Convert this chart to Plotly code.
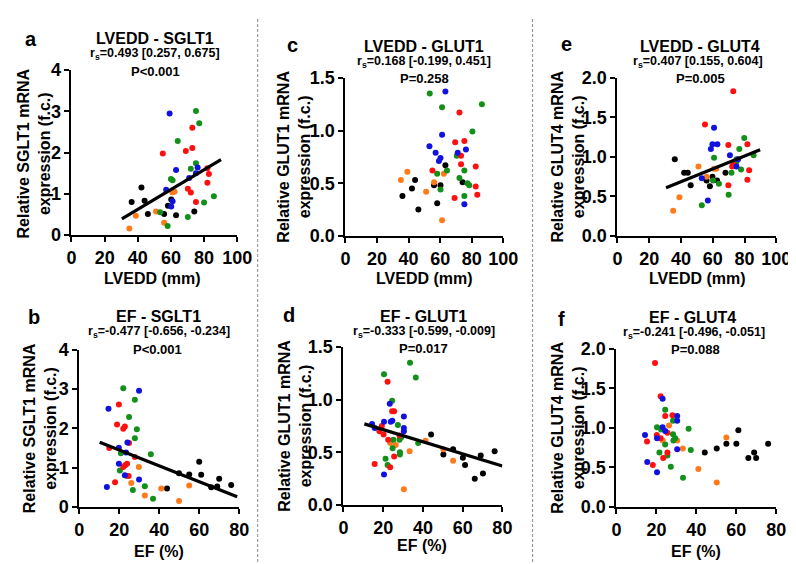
import plotly.graph_objects as go

# ---------------- data ----------------
# Panel a: LVEDD (mm) vs SGLT1
a_black_x = [36.3, 42.2, 44.1, 46.1, 55.9, 58.2, 60.2, 63.1, 74.1]
a_black_y = [0.80, 1.15, 0.83, 0.51, 0.51, 0.71, 0.86, 0.48, 0.57]
a_orange_x = [34.9, 38.8, 51.0, 55.9, 60.8, 62.2]
a_orange_y = [0.16, 0.47, 0.57, 0.30, 1.04, 1.05]
a_green_x = [53.5, 58.0, 60.0, 61.0, 64.1, 70.2, 72.0, 75.1, 75.1, 77.1, 80.0, 85.9]
a_green_y = [0.55, 0.22, 1.36, 1.33, 2.28, 0.44, 1.61, 3.01, 1.74, 2.71, 0.79, 0.94]
a_red_x = [55.1, 69.0, 70.2, 72.0, 72.9, 72.9, 75.1, 82.0, 82.0, 82.9]
a_red_y = [1.98, 2.04, 1.12, 1.03, 2.11, 2.60, 0.80, 1.62, 1.27, 1.48]
a_blue_x = [59.2, 57.1, 60.2, 61.0, 63.1, 71.0, 75.1, 76.1]
a_blue_y = [2.95, 1.10, 0.69, 0.82, 1.58, 1.38, 1.50, 1.64]
a_fit_x = [30.4, 90.2]
a_fit_y = [0.39, 1.83]

# Panel b: EF (%) vs SGLT1
b_black_x = [43.9, 49.9, 55.0, 60.0, 61.0, 66.0, 69.0, 70.0, 76.0]
b_black_y = [0.47, 0.86, 0.83, 1.15, 0.82, 0.50, 0.52, 0.72, 0.56]
b_orange_x = [26.0, 29.8, 32.8, 41.0, 49.9, 55.0]
b_orange_y = [0.61, 1.02, 0.29, 0.47, 0.15, 0.55]
b_green_x = [20.3, 20.8, 22.0, 23.9, 24.9, 26.8, 27.8, 27.8, 28.8, 32.8, 35.8, 36.9]
b_green_y = [0.93, 1.37, 3.02, 0.79, 2.29, 0.43, 2.73, 1.75, 1.98, 0.53, 1.34, 0.21]
b_red_x = [15.0, 17.9, 18.9, 19.8, 22.0, 22.8, 22.0, 22.9, 23.9, 24.9, 24.7, 27.8]
b_red_y = [1.50, 0.63, 2.10, 2.61, 1.99, 2.05, 1.02, 1.06, 1.10, 1.63, 0.79, 1.27]
b_blue_x = [14.6, 13.8, 19.8, 19.8, 22.8, 23.4, 24.1, 29.9, 29.9]
b_blue_y = [2.50, 0.51, 1.51, 1.10, 0.81, 1.39, 1.64, 2.96, 0.70]
b_fit_x = [10.2, 79.0]
b_fit_y = [1.65, 0.26]

# Panel c: LVEDD (mm) vs GLUT1
c_black_x = [36.1, 42.1, 44.1, 46.2, 56.1, 58.1, 60.2, 63.3, 74.2]
c_black_y = [0.38, 0.45, 0.53, 0.25, 0.48, 0.31, 0.48, 0.67, 0.51]
c_orange_x = [35.1, 39.2, 51.1, 56.1, 62.3, 61.2]
c_orange_y = [0.53, 0.61, 0.42, 0.51, 0.59, 0.15]
c_green_x = [53.4, 58.1, 60.2, 61.2, 64.3, 70.5, 72.2, 75.3, 75.3, 77.3, 78.4, 80.4, 86.4]
c_green_y = [1.35, 0.59, 0.44, 1.22, 0.62, 0.76, 0.55, 0.62, 0.38, 0.50, 0.48, 0.99, 1.25]
c_red_x = [55.1, 69.5, 69.1, 72.2, 73.2, 73.2, 75.3, 82.5, 82.5, 83.5]
c_red_y = [0.62, 0.89, 0.36, 1.17, 0.76, 0.68, 0.90, 0.66, 0.47, 0.39]
c_blue_x = [53.2, 57.1, 59.2, 60.2, 61.2, 63.3, 71.1, 76.3, 75.3]
c_blue_y = [0.85, 0.79, 0.71, 0.74, 0.96, 1.37, 0.79, 0.82, 0.30]

# Panel d: EF (%) vs GLUT1
d_black_x = [44.1, 50.3, 55.2, 60.1, 61.2, 66.1, 69.1, 70.2, 76.1]
d_black_y = [0.67, 0.48, 0.53, 0.45, 0.38, 0.25, 0.47, 0.30, 0.51]
d_orange_x = [23.5, 26.3, 33.3, 30.4, 41.3, 50.3, 55.2]
d_orange_y = [0.59, 0.57, 0.51, 0.15, 0.61, 0.53, 0.42]
d_green_x = [20.4, 21.2, 22.2, 24.5, 24.7, 25.1, 27.4, 28.2, 28.4, 28.4, 29.0, 33.5, 36.4, 37.6]
d_green_y = [1.24, 0.44, 0.38, 0.99, 0.54, 0.62, 0.76, 0.62, 0.50, 0.48, 0.64, 1.35, 1.21, 0.59]
d_red_x = [15.7, 19.3, 18.1, 20.2, 22.2, 22.5, 23.5, 24.5, 25.5, 25.5, 28.2]
d_red_y = [0.39, 0.75, 0.70, 0.67, 1.17, 0.62, 0.36, 0.89, 0.89, 0.46, 0.66]
d_blue_x = [14.4, 15.7, 20.4, 20.4, 23.3, 23.8, 24.6, 30.4, 30.4, 30.4]
d_blue_y = [0.77, 0.73, 0.79, 0.29, 0.96, 0.79, 0.80, 0.84, 0.73, 0.70]
d_fit_x = [10.5, 80.0]
d_fit_y = [0.77, 0.37]

# Panel e: LVEDD (mm) vs GLUT4
e_black_x = [36.1, 42.0, 44.3, 46.1, 56.1, 58.2, 59.8, 62.7, 68.0]
e_black_y = [0.97, 0.80, 0.80, 0.64, 0.70, 0.63, 0.75, 0.70, 0.80]
e_orange_x = [35.1, 39.0, 51.0, 56.1, 60.8, 62.2]
e_orange_y = [0.32, 0.49, 0.88, 0.75, 0.85, 0.85]
e_green_x = [53.1, 60.2, 60.8, 63.9, 70.0, 71.8, 74.9, 74.9, 76.7, 77.8, 79.8, 85.7]
e_green_y = [0.39, 0.70, 0.99, 0.66, 0.52, 0.80, 0.94, 0.97, 1.10, 0.84, 1.24, 1.02]
e_red_x = [55.1, 69.8, 69.8, 72.9, 72.2, 72.9, 81.8, 82.9, 81.8]
e_red_y = [1.41, 1.15, 0.64, 1.83, 0.88, 0.90, 1.16, 0.83, 0.71]
e_blue_x = [53.1, 56.9, 58.8, 59.8, 60.8, 62.9, 70.8, 74.9, 75.9]
e_blue_y = [0.73, 0.45, 1.10, 1.16, 1.37, 1.16, 1.02, 0.88, 0.97]
e_fit_x = [30.6, 89.8]
e_fit_y = [0.61, 1.09]

# Panel f: EF (%) vs GLUT4
f_black_x = [44.2, 50.2, 55.0, 60.0, 61.0, 66.0, 68.9, 69.9, 75.9]
f_black_y = [0.69, 0.74, 0.80, 0.80, 0.97, 0.62, 0.69, 0.62, 0.80]
f_orange_x = [23.1, 26.3, 30.4, 33.2, 41.0, 50.2, 55.0]
f_orange_y = [0.84, 1.03, 0.84, 0.74, 0.48, 0.31, 0.88]
f_green_x = [20.3, 21.5, 22.3, 24.4, 24.4, 25.5, 27.2, 28.3, 28.3, 28.5, 29.4, 33.3, 36.1, 37.2]
f_green_y = [1.01, 0.69, 0.98, 1.23, 0.79, 0.65, 0.51, 1.09, 0.92, 0.84, 0.87, 0.37, 0.99, 0.72]
f_red_x = [15.3, 18.2, 19.3, 20.2, 22.1, 22.1, 23.4, 24.4, 25.5, 25.5, 28.0]
f_red_y = [0.83, 0.53, 1.82, 0.91, 1.40, 0.87, 0.62, 1.15, 0.94, 0.69, 1.16]
f_blue_x = [14.3, 15.4, 20.3, 20.3, 23.1, 23.1, 24.4, 30.4, 30.4, 30.4]
f_blue_y = [0.91, 0.57, 0.87, 0.44, 1.37, 1.01, 0.96, 1.15, 1.09, 0.73]

titles = ["LVEDD - SGLT1", "EF - SGLT1", "LVEDD - GLUT1", "EF - GLUT1", "LVEDD - GLUT4", "EF - GLUT4"]
stats_r = ["0.493 [0.257, 0.675]", "-0.477 [-0.656, -0.234]", "0.168 [-0.199, 0.451]",
           "-0.333 [-0.599, -0.009]", "0.407 [0.155, 0.604]", "-0.241 [-0.496, -0.051]"]
stats_p = ["P<0.001", "P<0.001", "P=0.258", "P=0.017", "P=0.005", "P=0.088"]
genes = ["SGLT1", "SGLT1", "GLUT1", "GLUT1", "GLUT4", "GLUT4"]
x_titles = ["LVEDD (mm)", "EF (%)", "LVEDD (mm)", "EF (%)", "LVEDD (mm)", "EF (%)"]
letters = ["a", "b", "c", "d", "e", "f"]

# ---------------- styling / layout ----------------
W, H = 796, 564
FONT = "Liberation Sans, Arial, sans-serif"
colors = {"black": "#000000", "orange": "#FF7A1A", "green": "#12901A", "red": "#FF1010", "blue": "#1212E0"}

data = {
    "a": [(a_black_x, a_black_y), (a_orange_x, a_orange_y), (a_green_x, a_green_y), (a_red_x, a_red_y), (a_blue_x, a_blue_y)],
    "b": [(b_black_x, b_black_y), (b_orange_x, b_orange_y), (b_green_x, b_green_y), (b_red_x, b_red_y), (b_blue_x, b_blue_y)],
    "c": [(c_black_x, c_black_y), (c_orange_x, c_orange_y), (c_green_x, c_green_y), (c_red_x, c_red_y), (c_blue_x, c_blue_y)],
    "d": [(d_black_x, d_black_y), (d_orange_x, d_orange_y), (d_green_x, d_green_y), (d_red_x, d_red_y), (d_blue_x, d_blue_y)],
    "e": [(e_black_x, e_black_y), (e_orange_x, e_orange_y), (e_green_x, e_green_y), (e_red_x, e_red_y), (e_blue_x, e_blue_y)],
    "f": [(f_black_x, f_black_y), (f_orange_x, f_orange_y), (f_green_x, f_green_y), (f_red_x, f_red_y), (f_blue_x, f_blue_y)],
}
fits = {"a": (a_fit_x, a_fit_y), "b": (b_fit_x, b_fit_y), "d": (d_fit_x, d_fit_y), "e": (e_fit_x, e_fit_y)}
group_names = ["black", "orange", "green", "red", "blue"]

# pixel geometry of each panel: plot box (x0,x1,y0,y1), ranges, ticks, text positions
geo = {
    "a": dict(box=(60, 230, 54, 225), xr=[0, 100], yr=[0, 4], xt=[0, 20, 40, 60, 80, 100], yt=[0, 1, 2, 3, 4], yf="d",
              letter=(18, 22), title=(146, 21), rs=(146, 37), p=(146, 55), ytit=(22, 140), xtit=(143, 270)),
    "c": dict(box=(341, 503, 62, 226), xr=[0, 100], yr=[0, 1.5], xt=[0, 20, 40, 60, 80, 100], yt=[0, 0.5, 1.0, 1.5], yf=".1f",
              letter=(287, 28), title=(422, 30), rs=(422, 46), p=(422, 63), ytit=(288, 144), xtit=(422, 270)),
    "e": dict(box=(620, 783, 62, 226), xr=[0, 100], yr=[0, 2], xt=[0, 20, 40, 60, 80, 100], yt=[0, 0.5, 1.0, 1.5, 2.0], yf=".1f",
              letter=(568, 27), title=(705, 30), rs=(703, 46), p=(705, 63), ytit=(569, 144), xtit=(702, 270)),
    "b": dict(box=(68, 232, 344, 507), xr=[0, 80], yr=[0, 4], xt=[0, 20, 40, 60, 80], yt=[0, 1, 2, 3, 4], yf="d",
              letter=(22, 310), title=(149, 309), rs=(150, 326), p=(148, 344), ytit=(28, 425), xtit=(150, 553)),
    "d": dict(box=(339, 502, 341, 505), xr=[0, 80], yr=[0, 1.5], xt=[0, 20, 40, 60, 80], yt=[0, 0.5, 1.0, 1.5], yf=".1f",
              letter=(283, 308), title=(421, 309), rs=(422, 326), p=(421, 343), ytit=(289, 423), xtit=(420, 547)),
    "f": dict(box=(619, 783, 343, 507), xr=[0, 80], yr=[0, 2], xt=[0, 20, 40, 60, 80], yt=[0, 0.5, 1.0, 1.5, 2.0], yf=".1f",
              letter=(563, 312), title=(697, 310), rs=(699, 327), p=(700, 344), ytit=(569, 425), xtit=(701, 553)),
}
order = ["a", "b", "c", "d", "e", "f"]

fig = go.Figure()
annotations = []
layout_axes = {}

def px(xp):
    return xp / W

def py(yp):
    return 1 - yp / H

for i, key in enumerate(order):
    g = geo[key]
    n = "" if i == 0 else str(i + 1)
    xa, ya = "x" + n, "y" + n
    for gname, (xs, ys) in zip(group_names, data[key]):
        fig.add_trace(go.Scatter(x=xs, y=ys, mode="markers", xaxis=xa, yaxis=ya, showlegend=False,
                                 marker=dict(size=6, color=colors[gname], line=dict(width=0)),
                                 cliponaxis=False))
    if key in fits:
        fx, fy = fits[key]
        fig.add_trace(go.Scatter(x=fx, y=fy, mode="lines", xaxis=xa, yaxis=ya, showlegend=False,
                                 line=dict(color="black", width=3.2), cliponaxis=False))
    x0, x1, y0, y1 = g["box"]
    axis_common = dict(showline=True, linecolor="black", linewidth=2, ticks="outside", ticklen=5, tickwidth=2,
                       tickcolor="black", showgrid=False, zeroline=False, fixedrange=True,
                       tickfont=dict(family=FONT, size=18, color="black", weight="bold"))
    layout_axes["xaxis" + n] = dict(domain=[px(x0), px(x1)], range=g["xr"], tickvals=g["xt"], anchor=ya,
                                    tickformat="d", **axis_common)
    layout_axes["yaxis" + n] = dict(domain=[py(y1), py(y0)], range=g["yr"], tickvals=g["yt"], anchor=xa,
                                    tickformat=g["yf"], **axis_common)

    def ann(pos, text, size, **kw):
        annotations.append(dict(x=px(pos[0]), y=py(pos[1]), xref="paper", yref="paper", text=text,
                                showarrow=False, xanchor="center", yanchor="middle",
                                font=dict(family=FONT, size=size, color="black", weight="bold"), **kw))

    ann(g["letter"], letters[i], 20)
    ann(g["title"], titles[i], 16)
    ann(g["rs"], "r<sub>s</sub>=" + stats_r[i], 12.5)
    ann(g["p"], stats_p[i], 13)
    ann(g["xtit"], x_titles[i], 16)
    ann(g["ytit"], "Relative " + genes[i] + " mRNA<br>expression (f.c.)", 16, textangle=-90)

shapes = []
for xs in [251, 533]:
    shapes.append(dict(type="line", xref="paper", yref="paper", x0=px(xs), x1=px(xs), y0=0, y1=1,
                       line=dict(color="#8a8a8a", width=1, dash="3px,2px")))

fig.update_layout(width=W, height=H, margin=dict(l=0, r=0, t=0, b=0), paper_bgcolor="white",
                  plot_bgcolor="white", annotations=annotations, shapes=shapes,
                  font=dict(family=FONT, color="black"), **layout_axes)

fig.write_html("out.html")
